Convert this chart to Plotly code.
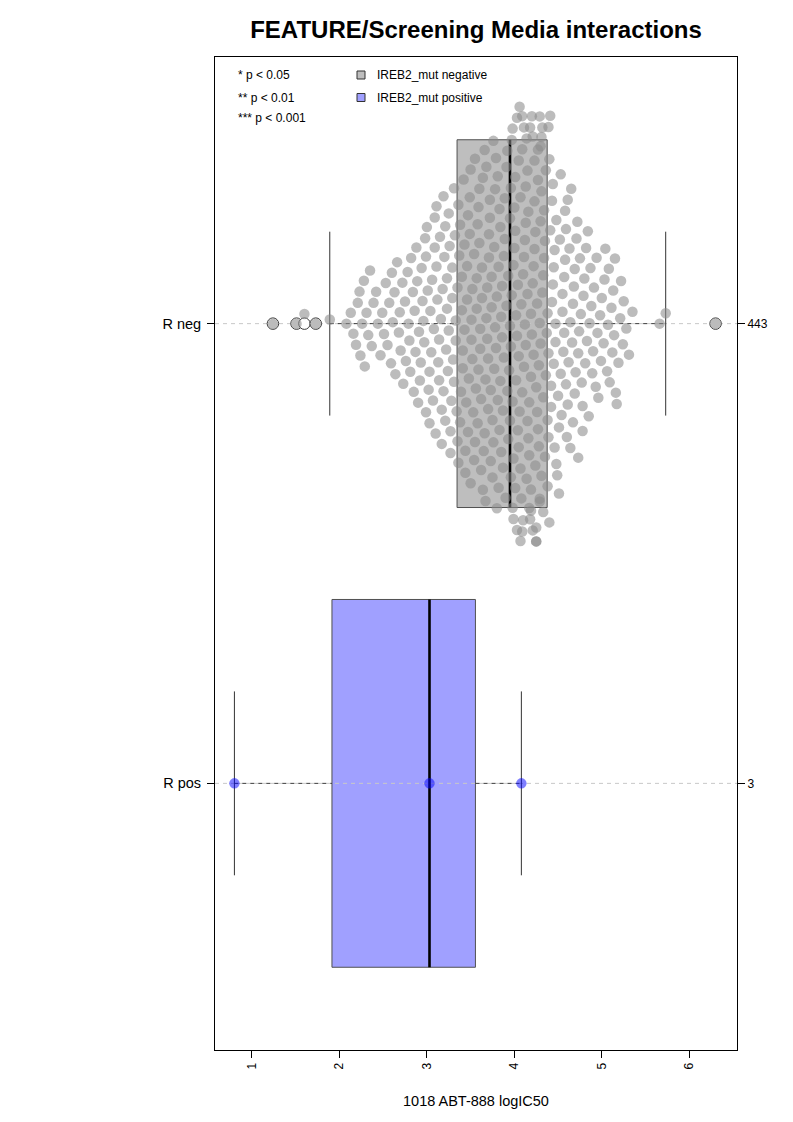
import numpy as np
import plotly.graph_objects as go

# ---------------- data ----------------
title_text = "FEATURE/Screening Media interactions"
x_title = "1018 ABT-888 logIC50"
categories = ["R neg", "R pos"]
cat_positions = [2, 1]
n_labels = ["443", "3"]
legend_labels = ["IREB2_mut negative", "IREB2_mut positive"]
sig_labels = ["* p < 0.05", "** p < 0.01", "*** p < 0.001"]
x_ticks = [1, 2, 3, 4, 5, 6]

rneg_low = [1.24, 1.51, 1.60, 1.73, 1.89, 2.08,
            2.13, 2.16, 2.19,
            2.21, 2.23, 2.24, 2.26, 2.28, 2.29,
            2.31, 2.33, 2.35, 2.37, 2.39,
            2.42, 2.44, 2.47, 2.49,
            2.51, 2.53, 2.55, 2.57, 2.59,
            2.60, 2.61, 2.63, 2.64, 2.66, 2.68, 2.69,
            2.70, 2.72, 2.73, 2.75, 2.76, 2.78, 2.79,
            2.80, 2.81, 2.82, 2.84, 2.85, 2.86, 2.87, 2.88, 2.89,
            2.90, 2.91, 2.92, 2.93, 2.94, 2.95, 2.96, 2.97, 2.98, 2.99, 2.99,
            3.00, 3.01, 3.02, 3.03, 3.03, 3.04, 3.05, 3.06, 3.07, 3.08, 3.09, 3.09,
            3.10, 3.11, 3.11, 3.12, 3.13, 3.14, 3.14, 3.15, 3.16, 3.17, 3.17, 3.18, 3.19, 3.19,
            3.20, 3.21, 3.21, 3.22, 3.23, 3.23, 3.24, 3.25, 3.25, 3.26, 3.27, 3.27, 3.28, 3.29, 3.29,
            3.30, 3.31, 3.31, 3.32, 3.33, 3.33, 3.34]
rneg_mid_low = [3.35, 3.35, 3.36, 3.36, 3.37, 3.38, 3.38, 3.39,
                3.40, 3.40, 3.41, 3.41, 3.42, 3.43, 3.43, 3.44, 3.44, 3.45, 3.46, 3.46, 3.47, 3.47, 3.48, 3.49, 3.49,
                3.50, 3.50, 3.51, 3.51, 3.52, 3.52, 3.53, 3.54, 3.54, 3.55, 3.55, 3.56, 3.57, 3.57, 3.58, 3.58, 3.59, 3.59,
                3.60, 3.60, 3.61, 3.61, 3.62, 3.62, 3.63, 3.63, 3.64, 3.64, 3.65, 3.66, 3.66, 3.67, 3.67, 3.68, 3.68, 3.69, 3.69,
                3.70, 3.70, 3.71, 3.71, 3.72, 3.72, 3.73, 3.73, 3.74, 3.74, 3.75, 3.75, 3.76, 3.76, 3.77, 3.77, 3.78, 3.78, 3.79, 3.79,
                3.80, 3.80, 3.81, 3.81, 3.82, 3.82, 3.83, 3.83, 3.84, 3.84, 3.85, 3.85, 3.86, 3.86, 3.87, 3.87, 3.88, 3.88, 3.89, 3.89,
                3.90, 3.91, 3.91, 3.92, 3.92, 3.93, 3.93, 3.94, 3.95]
rneg_mid_high = [3.95, 3.95, 3.96, 3.96, 3.96, 3.97, 3.97, 3.98, 3.98, 3.98, 3.99, 3.99, 3.99,
                 4.00, 4.00, 4.01, 4.01, 4.01, 4.02, 4.02, 4.03, 4.03, 4.03, 4.04, 4.04, 4.05, 4.05, 4.05,
                 4.06, 4.06, 4.07, 4.07, 4.07, 4.08, 4.08, 4.09, 4.09, 4.09, 4.09,
                 4.10, 4.10, 4.11, 4.11, 4.11, 4.12, 4.12, 4.13, 4.13, 4.13, 4.14, 4.14, 4.15, 4.15, 4.15,
                 4.16, 4.16, 4.17, 4.17, 4.17, 4.18, 4.18, 4.19, 4.19, 4.19, 4.19,
                 4.20, 4.20, 4.21, 4.21, 4.21, 4.22, 4.22, 4.23, 4.23, 4.23, 4.24, 4.24, 4.25, 4.25, 4.25, 4.25,
                 4.26, 4.26, 4.27, 4.27, 4.27, 4.28, 4.28, 4.29, 4.29, 4.29, 4.29,
                 4.30, 4.30, 4.30, 4.31, 4.31, 4.31, 4.32, 4.32, 4.33, 4.33, 4.33, 4.34, 4.34, 4.35, 4.35, 4.36, 4.36, 4.37]
rneg_high = [4.38, 4.38, 4.38, 4.39, 4.39, 4.39,
             4.40, 4.40, 4.41, 4.41, 4.42, 4.42, 4.43, 4.43, 4.44, 4.44, 4.45, 4.45, 4.46, 4.46, 4.47, 4.47, 4.48, 4.48, 4.49,
             4.50, 4.51, 4.51, 4.52, 4.53, 4.53, 4.54, 4.55, 4.55, 4.56, 4.57, 4.57, 4.58, 4.58, 4.59, 4.59,
             4.60, 4.61, 4.61, 4.62, 4.63, 4.64, 4.64, 4.65, 4.66, 4.67, 4.67, 4.68, 4.69, 4.69,
             4.70, 4.71, 4.72, 4.73, 4.73, 4.74, 4.75, 4.76, 4.77, 4.78, 4.78, 4.79,
             4.80, 4.81, 4.82, 4.83, 4.84, 4.85, 4.86, 4.87, 4.88, 4.89,
             4.90, 4.91, 4.93, 4.94, 4.95, 4.96, 4.98, 4.99,
             5.00, 5.02, 5.03, 5.04, 5.06, 5.07, 5.08, 5.09,
             5.11, 5.12, 5.13, 5.14, 5.15, 5.16, 5.17, 5.19,
             5.21, 5.22, 5.24, 5.25, 5.28,
             5.31, 5.35,
             5.66, 5.73,
             6.30]
rneg_values = rneg_low + rneg_mid_low + rneg_mid_high + rneg_high
rpos_values = [0.80, 3.03, 4.08]
group_values = [rneg_values, rpos_values]

# ---------------- styling / layout ----------------
OFF = 8                      # browser body margin
W, H = 777, 1106             # figure size (page is 793x1122)
ML, MR, MT, MB = 207, 48, 49, 64
x_range = [0.578, 6.545]
y_range = [0.42, 2.58]
box_half = 0.4
staple_half = 0.2
box_fill = ["#bebebe", "#a0a0ff"]
legend_fill = ["#bebebe", "#a0a0ff"]
point_color = ["rgba(140,140,140,0.58)", "rgba(0,0,255,0.5)"]
FONT = "Liberation Sans, Arial, Helvetica, sans-serif"
dot_size = 10.5
swarm_sx = 15.0
swarm_sy = 11.3
corral_width = 436.0

plot_w = W - ML - MR
plot_h = H - MT - MB
ppu_x = plot_w / (x_range[1] - x_range[0])
ppu_y = plot_h / (y_range[1] - y_range[0])


def fivenum(v):
    v = sorted(v)
    n = len(v)
    n4 = np.floor((n + 3) / 2) / 2
    d = [1, n4, (n + 1) / 2, n + 1 - n4, n]
    return [0.5 * (v[int(np.floor(di)) - 1] + v[int(np.ceil(di)) - 1]) for di in d]


def box_stats(v, coef=1.5):
    _, q1, med, q3, _ = fivenum(v)
    iqr = q3 - q1
    lo_f, hi_f = q1 - coef * iqr, q3 + coef * iqr
    inside = [a for a in v if lo_f <= a <= hi_f]
    out = [a for a in v if a < lo_f or a > hi_f]
    return dict(q1=q1, med=med, q3=q3, wlo=min(inside), whi=max(inside), out=out)


def swarm(values, sx, sy, corral):
    xpx = (np.asarray(values, float) - x_range[0]) * ppu_x
    order = np.argsort(xpx, kind="stable")
    px_list, py_list = [], []
    offs = np.zeros(len(xpx))
    for idx in order:
        xi = xpx[idx]
        y = 0.0
        if px_list:
            pxa = np.array(px_list)
            pya = np.array(py_list)
            m = np.abs(pxa - xi) < sx
            nx, ny = pxa[m], pya[m]
            if len(nx):
                dy = sy * np.sqrt(1 - ((nx - xi) / sx) ** 2)
                cand = np.concatenate([[0.0], ny + dy, ny - dy])
                d2 = ((nx[None, :] - xi) / sx) ** 2 + ((ny[None, :] - cand[:, None]) / sy) ** 2
                ok = np.all(d2 >= 1 - 1e-6, axis=1)
                c = cand[ok]
                y = c[np.argmin(np.abs(c))]
        px_list.append(xi)
        py_list.append(y)
        offs[idx] = y
    half = corral / 2
    offs = np.where(np.abs(offs) > half, ((offs + half) % corral) - half, offs)
    return offs


fig = go.Figure()
stats = [box_stats(v) for v in group_values]

for c, st, fc in zip(cat_positions, stats, box_fill):
    fig.add_trace(go.Scatter(
        x=[st["q1"], st["q3"], st["q3"], st["q1"], st["q1"]],
        y=[c - box_half, c - box_half, c + box_half, c + box_half, c - box_half],
        mode="lines", fill="toself", fillcolor=fc,
        line=dict(color="#505050", width=1), hoverinfo="skip", showlegend=False))

for c in cat_positions:
    fig.add_trace(go.Scatter(x=x_range, y=[c, c], mode="lines",
                             line=dict(color="#c8c8c8", width=1, dash="4px,4px"),
                             hoverinfo="skip", showlegend=False))

for c, st in zip(cat_positions, stats):
    fig.add_trace(go.Scatter(x=[st["med"], st["med"]], y=[c - box_half, c + box_half],
                             mode="lines", line=dict(color="black", width=2.6),
                             hoverinfo="skip", showlegend=False))
    for a, b in [(st["wlo"], st["q1"]), (st["q3"], st["whi"])]:
        fig.add_trace(go.Scatter(x=[a, b], y=[c, c], mode="lines",
                                 line=dict(color="#3a3a3a", width=1, dash="4px,4px"),
                                 hoverinfo="skip", showlegend=False))
    for w in [st["wlo"], st["whi"]]:
        fig.add_trace(go.Scatter(x=[w, w], y=[c - staple_half, c + staple_half], mode="lines",
                                 line=dict(color="#333333", width=1),
                                 hoverinfo="skip", showlegend=False))
    if st["out"]:
        fig.add_trace(go.Scatter(x=st["out"], y=[c] * len(st["out"]), mode="markers",
                                 marker=dict(size=11.5, color="white",
                                             line=dict(color="#3a3a3a", width=1)),
                                 hoverinfo="skip", showlegend=False))

for c, v, pc in zip(cat_positions, group_values, point_color):
    offs = swarm(v, swarm_sx, swarm_sy, corral_width)
    fig.add_trace(go.Scatter(x=v, y=c + offs / ppu_y, mode="markers",
                             marker=dict(size=dot_size, color=pc, line=dict(width=0)),
                             hoverinfo="skip", showlegend=False))

fig.add_trace(go.Scatter(x=[None], y=[None], yaxis="y2", showlegend=False, hoverinfo="skip"))


def px_x(p):   # page pixel -> paper fraction
    return (p - OFF - ML) / plot_w


def px_y(p):
    return (H - MB - (p - OFF)) / plot_h


annotations = []
shapes = []
for i, t in enumerate(sig_labels):
    annotations.append(dict(text=t, x=px_x(236), y=px_y([75.5, 97.5, 118.5][i]), xref="paper", yref="paper",
                            xanchor="left", yanchor="middle", showarrow=False,
                            font=dict(family=FONT, size=12, color="black")))
for i, (t, fc) in enumerate(zip(legend_labels, legend_fill)):
    yc = [75.0, 97.5][i]
    shapes.append(dict(type="rect", xref="paper", yref="paper",
                       x0=px_x(357), x1=px_x(365), y0=px_y(yc + 4), y1=px_y(yc - 4),
                       fillcolor=fc, line=dict(color="#333333", width=1)))
    annotations.append(dict(text=t, x=px_x(375), y=px_y(yc), xref="paper", yref="paper",
                            xanchor="left", yanchor="middle", showarrow=False,
                            font=dict(family=FONT, size=12, color="black")))
annotations.append(dict(text=x_title, x=0.5, y=px_y(1101), xref="paper", yref="paper",
                        xanchor="center", yanchor="middle", showarrow=False,
                        font=dict(family=FONT, size=14.5, color="black")))

fig.update_layout(
    width=W, height=H,
    margin=dict(l=ML, r=MR, t=MT, b=MB, autoexpand=False),
    paper_bgcolor="white", plot_bgcolor="white",
    title=dict(text="<b>" + title_text + "</b>", x=(476 - OFF) / W, y=1 - (30 - OFF) / H,
               xref="container", yref="container", xanchor="center", yanchor="middle",
               font=dict(family=FONT, size=24, color="black")),
    xaxis=dict(range=x_range, tickvals=x_ticks, ticktext=[str(t) for t in x_ticks],
               tickangle=-90, ticks="outside", ticklen=7, tickcolor="black",
               showgrid=False, zeroline=False, showline=True, mirror=True,
               linecolor="black", linewidth=1,
               tickfont=dict(family=FONT, size=12, color="black")),
    yaxis=dict(range=y_range, tickvals=cat_positions, ticktext=categories,
               ticks="outside", ticklen=7, tickcolor="black", ticklabelstandoff=3,
               showgrid=False, zeroline=False, showline=True, mirror=True,
               linecolor="black", linewidth=1,
               tickfont=dict(family=FONT, size=14.5, color="black")),
    yaxis2=dict(range=y_range, overlaying="y", side="right", tickvals=cat_positions,
                ticktext=n_labels, ticks="outside", ticklen=7, tickcolor="black",
                showgrid=False, zeroline=False, showline=False,
                tickfont=dict(family=FONT, size=12, color="black")),
    annotations=annotations, shapes=shapes, showlegend=False,
)

fig.write_html("out.html")
